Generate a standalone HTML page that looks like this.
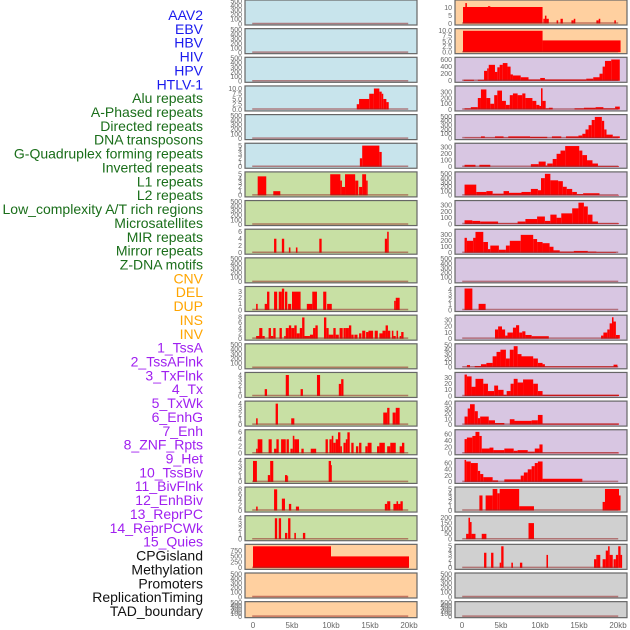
<!DOCTYPE html>
<html><head><meta charset="utf-8"><style>
body{margin:0;background:#fff;width:630px;height:630px;overflow:hidden}
svg{display:block;font-family:"Liberation Sans",sans-serif}
</style></head><body>
<svg id="chart" width="630" height="630"></svg>
<script>
// ---- data (segments: [startKb, endKb, value]) ----
const labels=["AAV2","EBV","HBV","HIV","HPV","HTLV-1","Alu repeats","A-Phased repeats","Directed repeats","DNA transposons","G-Quadruplex forming repeats","Inverted repeats","L1 repeats","L2 repeats","Low_complexity A/T rich regions","Microsatellites","MIR repeats","Mirror repeats","Z-DNA motifs","CNV","DEL","DUP","INS","INV","1_TssA","2_TssAFlnk","3_TxFlnk","4_Tx","5_TxWk","6_EnhG","7_Enh","8_ZNF_Rpts","9_Het","10_TssBiv","11_BivFlnk","12_EnhBiv","13_ReprPC","14_ReprPCWk","15_Quies","CPGisland","Methylation","Promoters","ReplicationTiming","TAD_boundary"];
const labelGroups=[6,13,5,15,5];
const groupColors=["#1a1aee","#1a6e1a","#ffa500","#a020f0","#111111"];
const xTicks=[0,5,10,15,20];
const xTickLabels=["0","5kb","10kb","15kb","20kb"];
const emptyTicks=[0,100,200,300,400,500];

const L3=[[13.3,13.6,2.5],[13.6,14.9,5],[14.9,15.5,7.5],[15.5,16.2,10],[16.2,16.5,8.5],[16.5,16.7,7.5],[16.7,17.1,5],[17.1,17.4,3.5]];
const L5=[[13.7,14.0,2],[14.0,16.2,5],[16.2,16.5,3.5]];
const L6=[[0.6,1.7,4.5],[2.6,3.5,1],[9.9,11.2,5],[11.2,11.4,3.5],[11.4,11.8,2],[11.8,13.1,5],[13.1,13.5,3.5],[13.6,14.0,2],[14.0,14.5,5],[14.5,14.7,3.5]];
const L8=[[2.7,3.0,4],[3.7,4.0,4],[4.6,4.8,1.5],[5.5,5.7,1.5],[8.5,8.8,4],[16.9,17.2,4],[17.2,17.4,6]];
const L10=[[0.4,0.6,1],[1.5,1.8,1],[1.8,2.1,3],[2.7,3.1,3],[3.3,3.7,3],[3.7,4.0,3.5],[4.1,4.4,3],[4.5,4.9,1],[5.0,6.1,3],[6.9,7.6,1],[7.6,8.2,3],[9.0,9.4,3],[9.5,10.1,1],[18.1,18.3,1.5],[18.3,18.8,2]];
const L11=[[0.4,1.0,1],[0.8,1.2,4],[1.2,1.5,1],[2.0,2.3,4],[2.3,2.6,1],[2.6,2.9,4],[3.4,3.7,4],[4.0,4.2,1],[4.2,4.6,4],[4.6,4.9,5],[4.9,5.3,4],[5.3,5.6,5],[5.6,6.0,2],[6.0,6.3,4],[6.3,6.6,8],[6.6,7.3,1],[7.3,7.7,1.5],[7.7,8.0,4],[8.0,8.3,5],[9.1,9.4,8],[9.4,9.7,4],[9.7,10.3,1.5],[10.3,10.6,4],[10.6,11.0,1.5],[11.1,11.5,4],[11.6,11.9,4],[11.9,12.3,4],[12.3,12.6,5],[12.6,12.9,1.5],[13.0,13.4,1.5],[13.6,13.9,2],[14.0,14.4,3],[14.5,14.8,2.5],[14.8,15.4,3],[15.6,16.0,3],[16.2,16.6,2],[16.6,17.0,3],[17.0,17.3,5],[17.3,17.6,3],[17.8,18.0,3],[18.0,18.3,1],[18.4,18.6,3],[18.8,19.0,1],[19.0,19.3,2.5]];
const L13=[[1.5,1.8,1.3],[4.2,4.6,4],[6.1,6.4,1.3],[8.2,8.6,4],[11.0,11.3,2.3],[11.3,11.6,3.2]];
const L14=[[0.4,0.6,1.2],[2.9,3.2,4],[4.9,5.3,1.2],[16.7,17.2,2.3],[17.2,17.5,3.2],[17.9,18.3,2.3],[18.3,18.8,3.2]];
const L15=[[0.4,0.6,1.3],[0.6,1.2,4],[2.0,2.4,4],[2.7,3.0,1.3],[3.0,3.3,4],[3.6,4.2,4],[4.3,4.6,4],[4.8,5.1,1.3],[5.1,5.3,5],[5.3,5.9,4],[6.2,6.5,1.3],[7.4,8.1,1.3],[9.3,9.6,4],[9.8,10.1,4],[10.1,10.3,5],[10.3,10.6,3],[10.6,10.9,4],[10.9,11.2,6],[11.2,11.4,2],[11.6,11.9,3],[11.9,12.1,4],[12.1,12.4,6],[12.6,12.9,3],[13.2,13.5,2],[13.6,13.9,3],[14.4,14.7,2],[14.7,15.2,3],[15.9,16.2,2],[16.2,16.9,3],[17.2,17.6,2],[17.6,18.3,3],[18.8,19.1,2],[19.1,19.4,3]];
const L16=[[0.0,0.5,4],[1.9,2.2,1.3],[2.2,2.6,4],[4.1,4.4,1.3],[4.4,4.5,1.1],[9.7,10.0,4],[10.0,10.1,3.2]];
const L17=[[0.4,0.6,1.5],[2.7,3.1,8],[3.7,4.1,4.5],[4.6,4.9,2.5],[5.5,5.9,1.5],[16.9,17.2,2.5],[17.2,17.6,3.5],[18.0,18.4,2.5],[18.4,18.6,3.5],[18.6,18.9,2.5],[18.9,19.2,3.5]];
const L18=[[2.8,3.1,4],[3.3,3.6,4],[4.1,4.4,1.2],[4.5,4.8,4],[5.3,5.5,1.2],[6.4,6.7,1.2]];
const L19=[[0,10,940],[10,20,500]];

const R0=[[0,10.2,10.5],[0.3,0.5,13],[3.2,3.5,11],[10.3,10.5,3],[10.5,10.7,5],[10.7,11.0,3],[12.0,12.2,2],[12.5,12.8,3],[13.9,14.2,2],[14.2,14.4,3],[17.1,17.4,2],[17.4,17.6,3],[19.4,19.6,2]];
const R1=[[0,10.2,10],[10.2,20.2,5.5]];
const R2=[[0.1,1.4,30],[1.9,2.7,30],[2.7,3.1,280],[3.1,3.3,350],[3.3,4.1,450],[4.1,4.4,250],[4.4,4.7,380],[4.7,5.1,450],[5.1,5.7,500],[5.7,6.1,400],[6.1,6.4,180],[6.4,7.4,150],[7.4,8.4,100],[8.4,9.9,40],[9.9,10.5,80],[10.5,13.2,40],[13.2,15.8,40],[15.8,16.7,60],[16.7,17.5,100],[17.5,17.9,200],[17.9,18.2,400],[18.2,19.0,560],[19.0,20.1,600]];
const R3=[[0.2,1.0,20],[1.0,1.9,40],[1.9,2.3,200],[2.3,3.0,350],[3.0,3.5,200],[3.5,4.0,100],[4.0,4.4,250],[4.4,5.0,330],[5.0,5.5,150],[5.5,6.0,80],[6.0,6.4,250],[6.4,7.0,280],[7.0,7.6,250],[7.6,8.0,280],[8.0,8.9,200],[8.9,9.4,150],[9.4,9.8,80],[9.8,10.0,60],[10.0,10.2,370],[10.2,10.6,150],[10.6,11.0,20],[11.0,11.5,30],[14.3,15.5,20],[15.5,17.0,30],[17.0,18.0,40],[18.0,19.5,20],[19.5,20.1,50]];
const R4=[[0.2,2.3,10],[2.3,2.8,40],[2.8,4.1,10],[4.1,5.2,40],[5.2,5.8,10],[5.8,8.6,40],[8.6,10.8,30],[11.4,12.6,40],[13.2,14.8,40],[14.8,15.3,60],[15.3,15.7,100],[15.7,16.1,200],[16.1,16.5,300],[16.5,16.9,420],[16.9,17.8,490],[17.8,18.1,400],[18.1,18.4,200],[18.4,19.2,80],[19.2,20.1,40]];
const R5=[[0.2,1.6,30],[2.1,3.5,30],[8.7,9.7,40],[9.7,10.6,80],[10.6,10.8,20],[10.8,11.5,50],[11.5,12.0,120],[12.0,12.5,200],[12.5,13.1,250],[13.1,14.9,320],[14.9,15.3,250],[15.3,15.9,180],[15.9,16.6,100],[16.6,17.3,50],[17.3,20,10]];
const R6=[[0.2,1.7,250],[1.7,3.0,80],[3.0,3.8,100],[3.8,5.2,40],[5.2,5.9,100],[5.9,7.5,60],[7.5,8.7,80],[8.7,9.6,150],[9.6,10.0,120],[10.0,10.5,400],[10.5,11.2,500],[11.2,12.2,350],[12.2,12.8,330],[12.8,13.3,200],[13.3,14.0,150],[14.0,14.6,80],[14.6,15.4,30],[15.4,17.5,50],[17.5,20,10]];
const R7=[[0.2,1.2,60],[1.2,2.2,50],[2.2,4.5,40],[4.5,7.0,10],[7.0,8.0,40],[8.0,9.5,80],[9.5,10.5,120],[10.5,11.2,50],[11.2,12.0,150],[12.0,12.6,100],[12.6,14.0,170],[14.0,14.8,250],[14.8,15.5,340],[15.5,16.0,280],[16.0,16.6,150],[16.6,17.3,40],[17.3,20,10]];
const R8=[[0.2,0.5,250],[0.5,1.3,200],[1.3,1.6,250],[1.6,2.6,350],[2.6,3.2,180],[3.2,3.5,60],[3.5,4.6,120],[4.6,5.5,50],[5.5,6.0,120],[6.0,7.4,200],[7.4,9.0,300],[9.0,9.5,230],[9.5,10.2,180],[10.2,11.1,160],[11.1,11.6,100],[11.6,12.4,40],[12.4,14.2,20],[14.2,16.0,30],[16.0,17.1,20],[17.1,19.6,10]];
const R10=[[0.2,1.2,4.2],[2.0,2.9,1.2]];
const R11=[[4.1,4.5,15],[4.5,5.0,20],[5.0,5.4,15],[5.4,5.7,5],[5.7,6.4,10],[6.4,6.8,18],[6.8,7.2,22],[7.2,7.6,10],[7.6,8.0,12],[8.0,8.8,6],[8.8,11.0,4],[17.7,18.0,5],[18.0,18.5,10],[18.5,18.8,15],[18.8,19.1,25],[19.1,19.3,35],[19.3,19.6,28],[19.6,20.1,6]];
const R12=[[0.5,0.9,5],[1.5,2.3,3],[2.3,3.0,7],[3.0,3.8,10],[3.8,4.3,25],[4.3,4.8,35],[4.8,5.5,40],[5.5,6.0,20],[6.0,6.5,40],[6.5,7.0,48],[7.0,7.5,30],[7.5,9.0,25],[9.0,9.6,20],[9.6,10.2,10],[10.2,10.5,7],[10.5,19.3,2],[19.3,19.8,6]];
const R13=[[0.2,0.5,35],[0.5,1.1,32],[1.1,1.6,15],[1.6,2.6,28],[2.6,3.2,20],[3.2,4.0,8],[4.0,4.5,17],[4.5,5.2,10],[5.2,5.6,2],[5.6,6.1,8],[6.1,6.5,20],[6.5,7.0,28],[7.0,7.7,22],[7.7,9.0,27],[9.0,9.6,20],[9.6,10.2,8],[10.2,20,2]];
const R14=[[0.2,0.6,15],[0.6,0.9,30],[0.9,1.5,38],[1.5,1.9,25],[1.9,2.2,12],[2.2,3.3,15],[3.3,4.1,8],[4.1,5.3,3],[6.0,6.6,10],[6.6,8.8,7],[8.8,9.6,8],[9.6,10.2,18],[10.2,20,2]];
const R15=[[0.2,0.5,45],[0.5,1.2,50],[1.2,1.6,55],[1.6,2.1,68],[2.1,2.4,55],[2.4,3.4,15],[3.4,3.9,18],[3.9,5.3,10],[5.3,6.5,15],[6.5,7.0,8],[7.0,8.3,10],[8.3,9.2,5],[9.2,9.8,15],[9.8,10.2,28],[10.2,20,2]];
const R16=[[0.2,0.4,70],[0.4,1.0,65],[1.0,1.9,60],[1.9,2.2,35],[2.2,2.6,25],[2.6,3.8,15],[3.8,4.5,5],[5.3,7.4,8],[7.4,7.8,20],[7.8,8.3,30],[8.3,8.8,40],[8.8,9.2,50],[9.2,9.6,60],[9.6,10.2,65],[10.2,15.3,10]];
const R17=[[2.1,2.5,3.5],[2.9,3.8,3.5],[3.8,4.4,5],[4.4,4.7,4],[4.7,7.2,5],[7.2,9.1,1],[17.9,18.2,2],[18.2,20.0,5],[20.0,20.2,3.5]];
const R18=[[0.4,0.7,50],[0.7,0.9,200],[0.9,1.1,160],[1.1,1.6,50],[2.4,3.0,50],[8.4,9.1,150]];
const R19=[[2.7,3.0,3.5],[3.6,3.9,3.5],[4.7,4.9,1.2],[4.9,5.2,5],[6.2,6.4,1.2],[7.3,7.6,1.2],[10.7,10.9,3],[16.8,17.1,2],[17.1,17.3,3],[17.3,17.6,3],[17.9,18.3,2],[18.3,18.6,4],[18.6,18.8,5],[18.8,19.2,3],[19.3,19.6,2],[19.6,19.9,3],[19.9,20.2,5],[20.2,20.4,3]];

const leftData=[null,null,null,L3,null,L5,L6,null,L8,null,L10,L11,null,L13,L14,L15,L16,L17,L18,L19,null,null];
const leftMax=[0,0,0,10.5,0,5.2,5.2,0,6.3,0,3.6,8.3,0,4.2,4.2,6.3,4.2,8.3,4.2,960,0,0];
const leftTicks=[null,null,null,[0,2.5,5,7.5,10],null,[0,1,2,3,4,5],[0,1,2,3,4,5],null,[0,2,4,6],null,[0,1,2,3],[0,2,4,6,8],null,[0,1,2,3,4],[0,1,2,3,4],[0,2,4,6],[0,1,2,3,4],[0,2,4,6,8],[0,1,2,3,4],[0,250,500,750],null,null];
const rightData=[R0,R1,R2,R3,R4,R5,R6,R7,R8,null,R10,R11,R12,R13,R14,R15,R16,R17,R18,R19,null,null];
const rightMax=[14,10.3,620,385,510,340,510,350,370,0,4.3,36,50,36,41,70,70,5.1,205,5.1,0,0];
const rightTicks=[[0,5,10],[0,2.5,5,7.5,10],[0,200,400,600],[0,100,200,300],[0,100,200,300,400,500],[0,100,200,300],[0,100,200,300,400,500],[0,100,200,300],[0,100,200,300],null,[0,1,2,3,4],[0,10,20,30],[0,10,20,30,40,50],[0,10,20,30],[0,10,20,30,40],[0,20,40,60],[0,20,40,60],[0,1,2,3,4,5],[0,50,100,150,200],[0,1,2,3,4,5],null,null];

const leftBg=i=>i<6?"#c8e4ec":(i<19?"#c8e0a4":"#ffd0a0");
const rightBg=i=>i<2?"#ffd0a0":(i<17?"#d8c6e2":"#d0d0d0");

// ---- drawing ----
const NS="http://www.w3.org/2000/svg";
const svg=document.getElementById("chart");
function mk(tag,attrs,parent){const e=document.createElementNS(NS,tag);for(const k in attrs)e.setAttribute(k,attrs[k]);(parent||svg).appendChild(e);return e;}
const rowTop=i=>i*28.65;
const rowH=i=>i===21?16:25;

// labels
let li=0;
labelGroups.forEach((n,g)=>{for(let k=0;k<n;k++){
  const t=mk("text",{x:203,y:20+li*13.86,"text-anchor":"end","font-size":"14",fill:groupColors[g]});
  t.textContent=labels[li];
  
  
  li++;}});

function panel(col,i,data,max,ticks,bg){
  const px=col===0?245:455, pw=172, top=rowTop(i), h=rowH(i);
  const x0=px+8, kbW=7.8;
  const g=mk("g",{});
  
  
  mk("rect",{x:px,y:top,width:pw,height:h,fill:bg,stroke:"#666",'stroke-width':1.2},g);
  const empty=!data; const ymax=empty?500:max;
  const yb=empty?top+h-1:top+h-1.5, yt=empty?top+1:top+1.5;
  const ys=v=>yb-(v/ymax)*(yb-yt);
  const xs=kb=>x0+kb*kbW;
  const tk=ticks||emptyTicks;
  tk.forEach(v=>{const t=mk("text",{x:px-3,y:ys(v)+2.3,"text-anchor":"end","font-size":"7",fill:"#666"},g);t.textContent=String(v%1?v.toFixed(1):(tk.some(x=>x%1)?v.toFixed(1):v));});
  if(data){
    data.forEach(s=>{const r=mk("rect",{x:xs(s[0]),y:ys(s[2]),width:Math.max(0.8,xs(s[1])-xs(s[0])),height:yb-ys(s[2]),fill:"#ff0000"},g);
      
      });
  }
  mk("line",{x1:xs(-0.1),x2:xs(19.9),y1:yb-0.5,y2:yb-0.5,stroke:"rgba(150,40,40,0.55)","stroke-width":1.5},g);
}
for(let i=0;i<22;i++){
  panel(0,i,leftData[i],leftMax[i],leftTicks[i],leftBg(i));
  panel(1,i,rightData[i],rightMax[i],rightTicks[i],rightBg(i));
}
// x axes
[253,462].forEach((x0,c)=>{xTicks.forEach((v,k)=>{
  const t=mk("text",{x:x0+v*7.8,y:628,"text-anchor":"middle","font-size":"8",fill:"#666"});
  t.textContent=xTickLabels[k];
  
  
});});
</script>
</body></html>
